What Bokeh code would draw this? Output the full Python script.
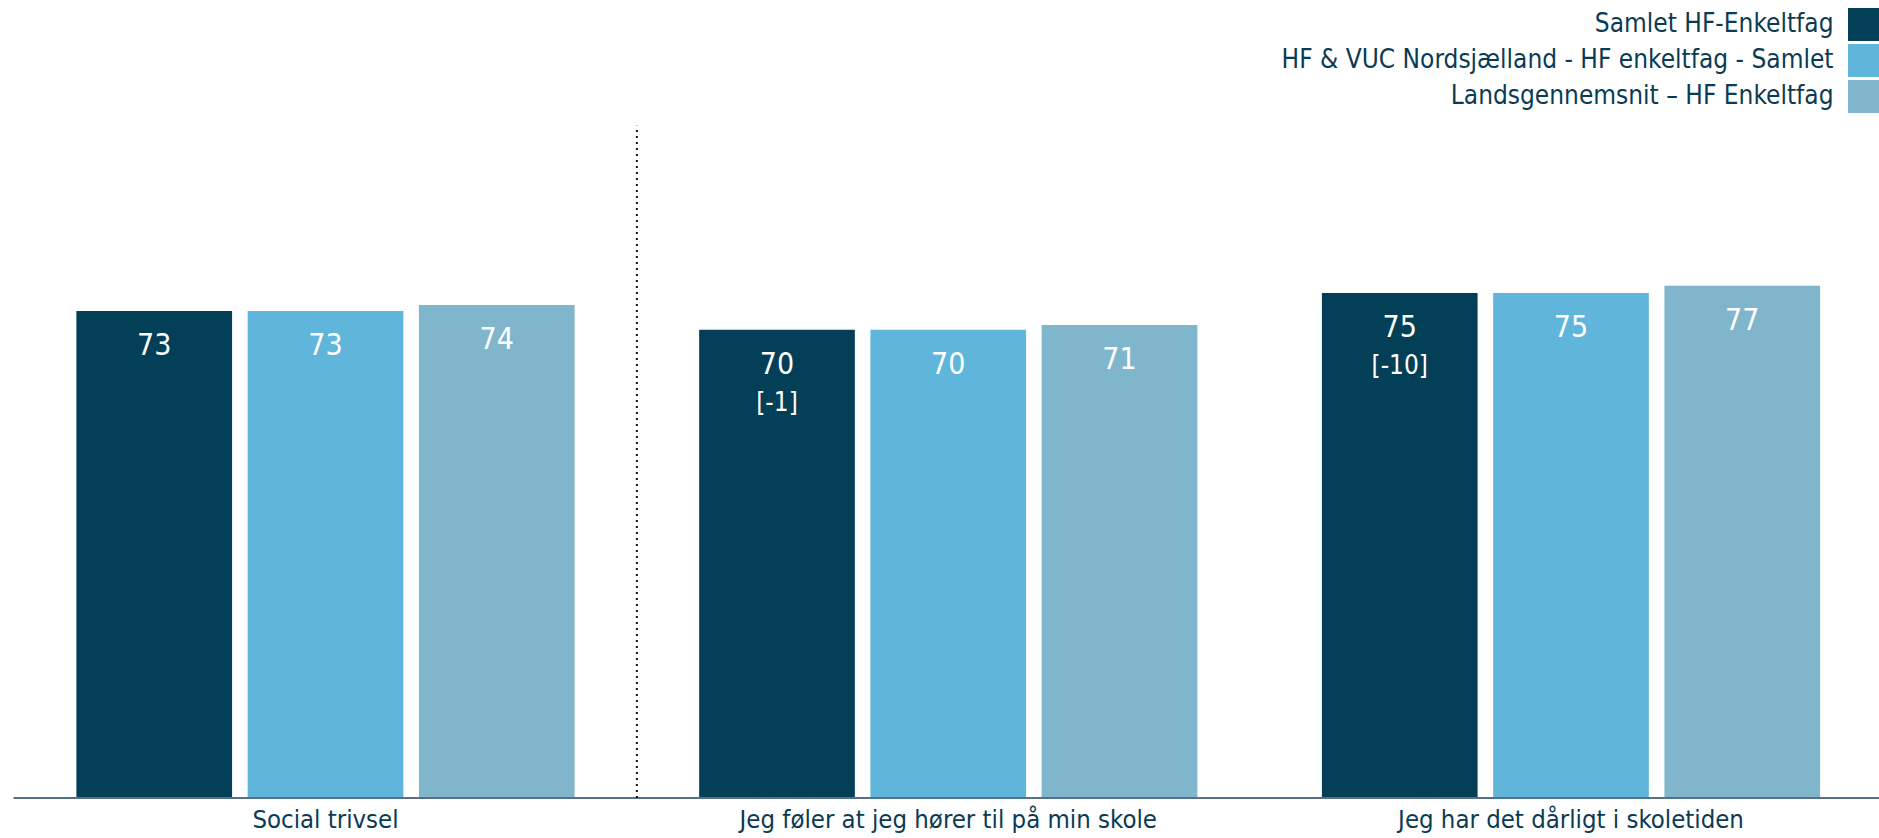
from bokeh.plotting import figure
from bokeh.models import Range1d, ColumnDataSource
from bokeh.core.properties import value
from bokeh.embed import file_html
from bokeh.resources import INLINE

# ---------------- data ----------------
categories = ["Social trivsel",
              "Jeg føler at jeg hører til på min skole",
              "Jeg har det dårligt i skoletiden"]
series_names = ["Samlet HF-Enkeltfag",
                "HF & VUC Nordsjælland - HF enkeltfag - Samlet",
                "Landsgennemsnit \u2013 HF Enkeltfag"]
samlet = [73.0, 70.2, 75.7]
nordsj = [73.0, 70.2, 75.7]
lands = [73.9, 70.9, 76.8]
samlet_lbl = ["73", "70", "75"]
nordsj_lbl = ["73", "70", "75"]
lands_lbl = ["74", "71", "77"]
diff_lbl = ["", "[-1]", "[-10]"]
divider_top = 100.8

# ---------------- layout ----------------
W, H = 1879, 838
OFF = 0             # page offset of the canvas
S = 622.75          # px per category
X0 = -(325 - OFF) / S
X1 = X0 + W / S
K = 6.67            # px per value unit
YMAX = (797.5 - OFF) / K
YMIN = YMAX - H / K

def dx(px):
    return X0 + (px - OFF) / S

def dy(py):
    return YMAX - (py - OFF) / K

colors = ["#033f57", "#60b5da", "#7fb6cc"]
FONT = value("DejaVu Sans Condensed")
TXT = "#0b3b53"
bar_w = 0.25
offsets = [-0.275, 0.0, 0.275]

p = figure(width=W, height=H, x_range=Range1d(X0, X1), y_range=Range1d(YMIN, YMAX),
           output_backend="svg", toolbar_location=None, title=None,
           x_axis_location=None, y_axis_location=None, min_border=0)
p.grid.visible = False
p.outline_line_color = None
p.background_fill_color = "white"
p.border_fill_color = "white"

series = [samlet, nordsj, lands]
labels = [samlet_lbl, nordsj_lbl, lands_lbl]
for vals, lbls, off, col in zip(series, labels, offsets, colors):
    xs = [i + off for i in range(len(categories))]
    src = ColumnDataSource(dict(x=xs, top=vals, lbl=lbls))
    p.vbar(x="x", top="top", bottom=0, width=bar_w, source=src,
           fill_color=col, line_color=None)
    p.text(x="x", y="top", text="lbl", source=src, text_color="white",
           text_font=FONT, text_font_size="30px", text_align="center",
           text_baseline="middle", y_offset=33)

# difference labels under first series values
dsrc = ColumnDataSource(dict(x=[i + offsets[0] for i in range(len(categories))],
                             y=samlet, t=diff_lbl))
p.text(x="x", y="y", text="t", source=dsrc, text_color="white",
       text_font=FONT, text_font_size="26px", text_align="center",
       text_baseline="middle", y_offset=72)

# baseline (axis line)
p.segment(x0=[dx(13)], y0=[0], x1=[X1], y1=[0], line_color="#56708a", line_width=2)

# dotted divider after first category
p.segment(x0=[0.5], y0=[0], x1=[0.5], y1=[divider_top], line_color="#111111",
          line_width=2, line_dash="2 4")

# category labels
csrc = ColumnDataSource(dict(x=list(range(len(categories))),
                             y=[dy(818.5)] * len(categories), t=categories))
p.text(x="x", y="y", text="t", source=csrc, text_color=TXT, text_font=FONT,
       text_font_size="25.5px", text_align="center", text_baseline="middle")

# legend (text, then a square to its right)
ly = [24, 60, 96]
tly = [22.5, 58.5, 94.5]
lsrc = ColumnDataSource(dict(x=[dx(1833)] * 3, y=[dy(v) for v in tly], t=series_names))
p.text(x="x", y="y", text="t", source=lsrc, text_color=TXT, text_font=FONT,
       text_font_size="26px", text_align="right", text_baseline="middle")
rsrc = ColumnDataSource(dict(x=[dx(1863.5)] * 3, y=[dy(v) for v in ly], c=colors))
p.rect(x="x", y="y", width=32, height=33, width_units="screen", height_units="screen",
       fill_color="c", line_color=None, source=rsrc)

open("out.html", "w").write(file_html(p, INLINE))
